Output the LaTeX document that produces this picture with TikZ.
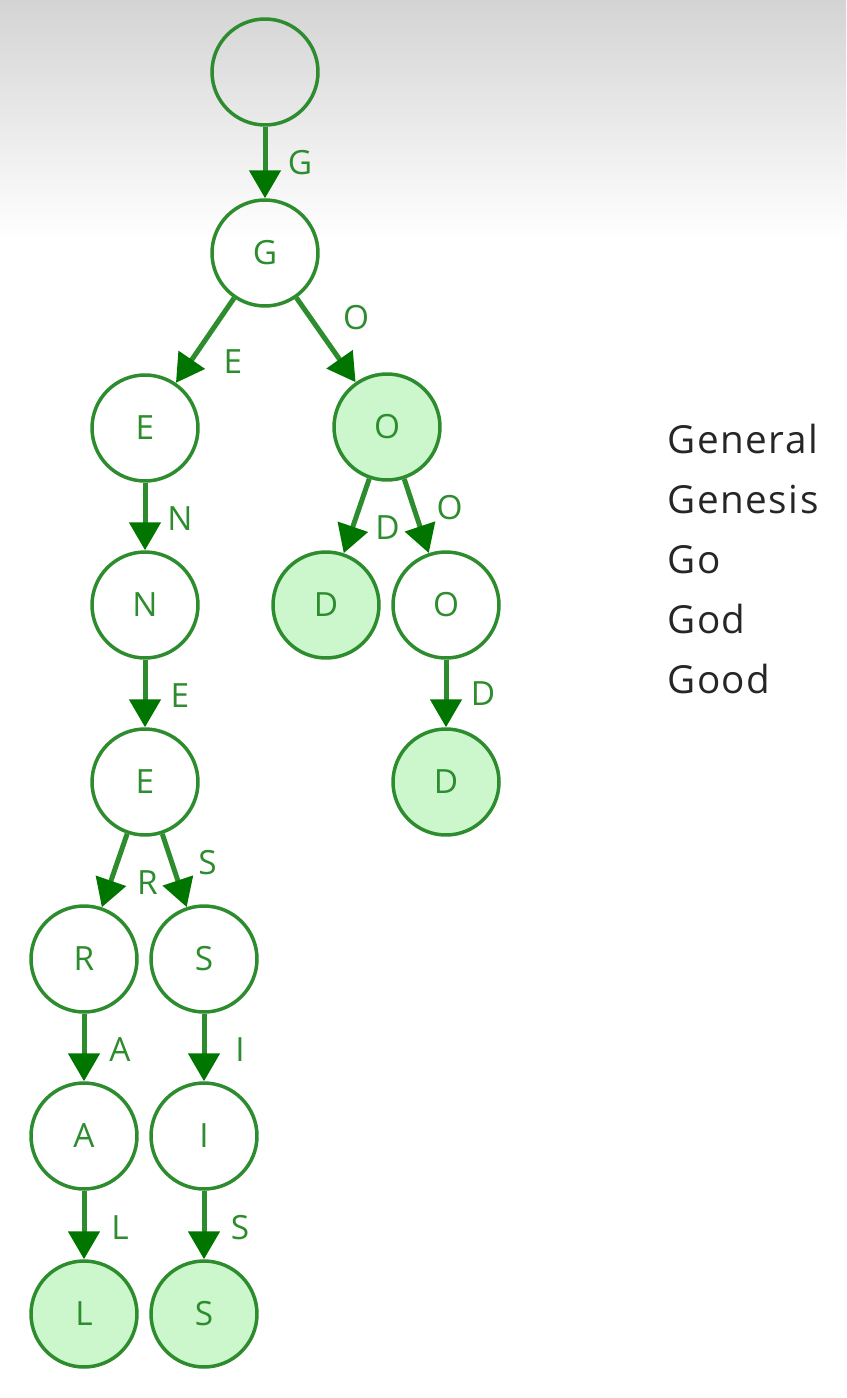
\documentclass[tikz,border=0pt]{standalone}
\usepackage{fontspec}
\setmainfont{Open Sans}
\newfontfamily\wordfont[LetterSpace=4]{Open Sans}
\usetikzlibrary{arrows.meta}
\definecolor{triegreen}{RGB}{45,140,45}
\definecolor{tipgreen}{RGB}{0,118,0}
\definecolor{leafgreen}{RGB}{204,247,204}
\tikzset{
  trienode/.style={circle, draw=triegreen, line width=0.07cm, minimum size=2.12cm, inner sep=0pt,
    font=\fontsize{19}{19}\selectfont, text=triegreen},
  wordend/.style={trienode, fill=leafgreen},
  trieedge/.style={draw=triegreen, line width=0.1cm,
    -{Triangle[length=0.56cm,width=0.62cm,color=tipgreen]}},
  lbl/.style={font=\fontsize{19}{19}\selectfont, text=triegreen, inner sep=0pt},
  word/.style={anchor=base west, inner sep=0pt, font=\wordfont\fontsize{22}{22}\selectfont, text=black!85}
}

\begin{document}
\begin{tikzpicture}[x=0.02cm, y=-0.02cm]
\useasboundingbox (0,0) rectangle (846,1398);
\fill[white] (0,0) rectangle (846,1398);
\shade[top color=black!17, bottom color=white] (0,0) rectangle (846,240);

% trie
\node[trienode] (root) at (265,72) {};
\node[trienode] (g) at (265,253) {G};
\node[trienode] (e) at (145,428) {E};
\node[wordend] (o) at (387,427) {O};
\node[trienode] (n) at (145,605) {N};
\node[wordend] (od) at (326,605) {D};
\node[trienode] (oo) at (446,605) {O};
\node[trienode] (ne) at (145,782) {E};
\node[wordend] (ood) at (446,782) {D};
\node[trienode] (r) at (84,959) {R};
\node[trienode] (s) at (204,959) {S};
\node[trienode] (a) at (84,1136) {A};
\node[trienode] (i) at (204,1136) {I};
\node[wordend] (l) at (84,1314) {L};
\node[wordend] (is) at (204,1314) {S};

\draw[trieedge] (root) -- node[lbl, shift={(35,0)}] {G} (g);
\draw[trieedge] (g) -- node[lbl, shift={(28,21)}] {E} (e);
\draw[trieedge] (g) -- node[lbl, shift={(30,-22)}] {O} (o);
\draw[trieedge] (e) -- node[lbl, shift={(35,2)}] {N} (n);
\draw[trieedge] (o) -- node[lbl, shift={(31,12)}] {D} (od);
\draw[trieedge] (o) -- node[lbl, shift={(33,-8)}] {O} (oo);
\draw[trieedge] (n) -- node[lbl, shift={(35,2)}] {E} (ne);
\draw[trieedge] (oo) -- node[lbl, shift={(37,0)}] {D} (ood);
\draw[trieedge] (ne) -- node[lbl, shift={(33,12)}] {R} (r);
\draw[trieedge] (ne) -- node[lbl, shift={(33,-8)}] {S} (s);
\draw[trieedge] (r) -- node[lbl, shift={(36,2)}] {A} (a);
\draw[trieedge] (s) -- node[lbl, shift={(36,2)}] {I} (i);
\draw[trieedge] (a) -- node[lbl, shift={(36,3)}] {L} (l);
\draw[trieedge] (i) -- node[lbl, shift={(36,3)}] {S} (is);

% words
\node[word] (w1) at (667,453) {General};
\node[word] (w2) at (667,513) {Genesis};
\node[word] (w3) at (667,573) {Go};
\node[word] (w4) at (667,633) {God};
\node[word] (w5) at (667,693) {Good};
\end{tikzpicture}
\end{document}
